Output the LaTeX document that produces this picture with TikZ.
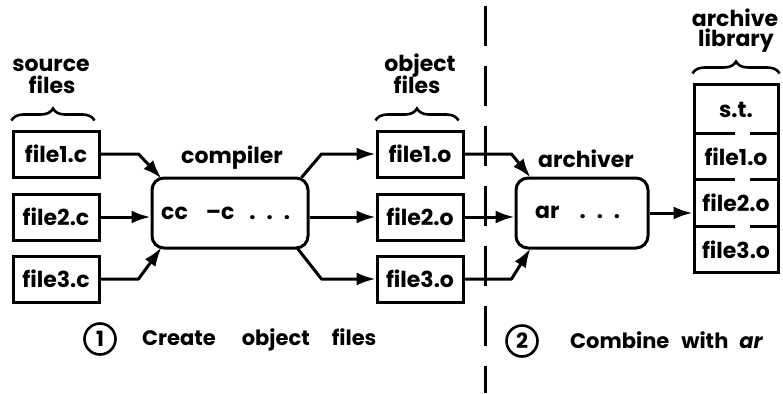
\documentclass[tikz,border=0pt]{standalone}
\usepackage{fontspec}
\setmainfont{Poppins}
\usetikzlibrary{arrows.meta,decorations.pathreplacing,calc}

\begin{document}
\begin{tikzpicture}[x=1pt,y=-1pt,
  txt/.style={font=\fontsize{22}{25}\selectfont\bfseries, inner sep=0pt},
  captxt/.style={font=\fontsize{21}{24}\selectfont\bfseries, inner sep=0pt},
  filebox/.style={txt, draw, line width=3pt, minimum width=86pt, minimum height=46pt},
  procbox/.style={draw, line width=3pt, rounded corners=12pt, minimum width=156pt, minimum height=70pt},
  arr/.style={line width=3pt, line join=round, -{Latex[length=19pt,width=13pt]}},
  plain/.style={line width=3pt},
  curly/.style={line width=2.6pt, decorate, decoration={brace, amplitude=12pt}},
  stepnum/.style={captxt, circle, draw, line width=2.6pt, minimum size=31pt},
]
\useasboundingbox (0,0) rectangle (783,393);

% stage 1: sources -> compiler -> objects
\node[filebox] (s1) at (56,154) {file1.c};
\node[filebox] (s2) at (56,217) {file2.c};
\node[filebox] (s3) at (56,279) {file3.c};

\node[txt, anchor=base] (srcA) at (51,72) {source};
\node[txt, anchor=base] (srcB) at (52,93) {files};
\draw[curly] ([yshift=9pt]s1.north west) -- ([xshift=-6pt,yshift=9pt]s1.north east);

\node[procbox] (comp) at (230,213) {};
\node[txt, anchor=base] (compl) at (232,163) {compiler};
\node[txt, anchor=base west] (cctext) at (161,219)
  {cc\hspace{18pt}–c\hspace{15pt}.\hspace{11pt}.\hspace{11pt}.};

\node[filebox] (o1) at (420,154) {file1.o};
\node[filebox] (o2) at (420,217) {file2.o};
\node[filebox] (o3) at (420,279) {file3.o};

\node[txt, anchor=base] (objA) at (420,72) {object};
\node[txt, anchor=base] (objB) at (417,93) {files};
\draw[curly] ([yshift=9pt]o1.north west) -- ([xshift=-6pt,yshift=9pt]o1.north east);

\draw[arr] (s1.east) -- ++(38,0) -- ([shift={(11,2)}]comp.north west);
\draw[arr] (s2.east) -- (s2.east -| comp.west);
\draw[arr] (s3.east) -- ++(38,0) -- ([shift={(11,-2)}]comp.south west);

\draw[arr] ([shift={(-8,1)}]comp.north east) -- ($(o1.west)+(-54,0)$) -- (o1.west);
\draw[arr] (o2.west -| comp.east) -- (o2.west);
\draw[arr] ([shift={(-12,-1)}]comp.south east) -- ($(o3.west)+(-54,0)$) -- (o3.west);

% divider between the two stages
\draw[plain, dash pattern=on 40pt off 20pt] (485,6) -- (485,393);

% stage 2: objects -> archiver -> library
\node[procbox, minimum width=132pt] (arch) at (582,213) {};
\node[txt, anchor=base] (archl) at (586,167) {archiver};
\node[txt, anchor=base west] (artext) at (535,218)
  {ar\hspace{20pt}.\hspace{11pt}.\hspace{11pt}.};

\draw[arr] (o1.east) -- ++(47,0) -- ([shift={(16,1)}]arch.north west);
\draw[arr] (o2.east) -- (o2.east -| arch.west);
\draw[arr] (o3.east) -- ++(47,0) -- ([shift={(16,-1)}]arch.south west);

\node[draw, line width=3pt, minimum width=84pt, minimum height=187pt, inner sep=0pt] (lib) at (736,178.5) {};
\node[txt] (lst) at (736,110) {s.t.};
\node[txt] (lf1) at (736,157) {file1.o};
\node[txt] (lf2) at (736,203) {file2.o};
\node[txt] (lf3) at (736,250) {file3.o};
\foreach \yy in {133,179,226} {
  \draw[plain] (lib.west |- 0,\yy) -- (735,\yy);
  \draw[plain] (750,\yy) -- (lib.east |- 0,\yy);
}
\node[txt, anchor=base] (libA) at (735,27) {archive};
\node[txt, anchor=base] (libB) at (736,47) {library};
\draw[curly] ([yshift=10pt]lib.north west) -- ([yshift=10pt]lib.north east);

\draw[arr] (arch.east) -- (arch.east -| lib.west);

% captions
\node[stepnum] (n1) at (100,339) {1};
\node[captxt, anchor=west] (cap1) at (142,340) {Create\hspace{26pt}object\hspace{22pt}files};
\node[stepnum] (n2) at (522,341) {2};
\node[captxt, anchor=west] (cap2) at (570,340) {Combine\hspace{12pt}with\hspace{11pt}\textit{ar}};
\end{tikzpicture}
\end{document}
